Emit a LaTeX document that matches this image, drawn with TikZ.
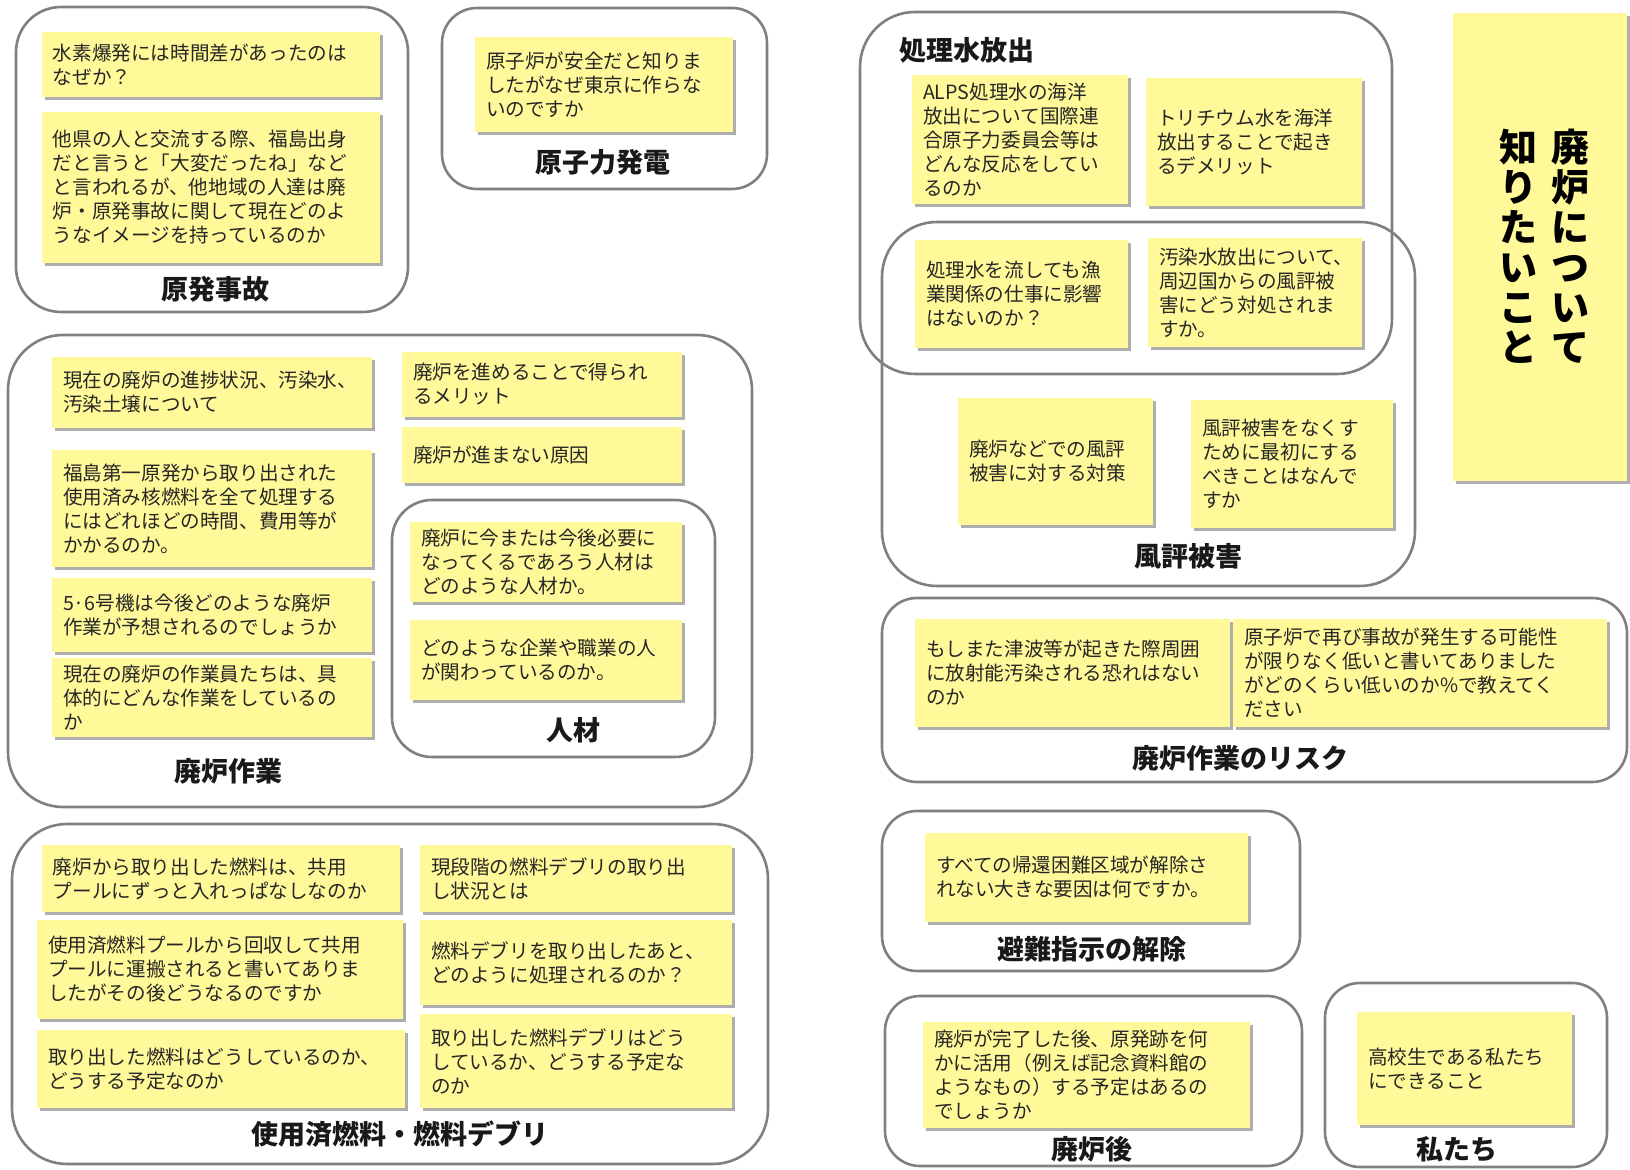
\documentclass[tikz,border=0pt]{standalone}
\usepackage{fontspec}
\setmainfont{Noto Sans CJK JP}
\usetikzlibrary{shadows}
\definecolor{notefill}{RGB}{255,249,153}
\definecolor{grpline}{RGB}{128,128,128}
\newcommand\mknote[6]{%
  \pgfmathsetmacro\notew{(#4-#2)*0.5}%
  \pgfmathsetmacro\noteh{(#5-#3)*0.5}%
  \pgfmathsetmacro\notetw{(#4-#2-22)*0.5}%
  \node[note, minimum width=\notew pt, minimum height=\noteh pt, text width=\notetw pt] (#1) at ({(#2+#4)/2},{(#3+#5)/2}) {#6};%
}
\begin{document}
\begin{tikzpicture}[x=0.5pt,y=-0.5pt,
  note/.style={fill=notefill, draw=none, inner xsep=5.5pt, inner ysep=0pt, align=left,
    font=\fontsize{9.8}{12}\selectfont, text=black!85,
    drop shadow={shadow xshift=1.3pt, shadow yshift=-1.3pt, opacity=0.45, fill=black!70}},
  grp/.style={draw=grpline, line width=1.3pt},
  lab/.style={font=\bfseries\fontsize{13.5}{16}\selectfont, text=black!90, inner sep=0pt}]
\fill[white] (0,0) rectangle (1630,1170);
\useasboundingbox (0,0) rectangle (1630,1170);

% ---- group boxes ----
\draw[grp, rounded corners=22.5pt] (16,7) rectangle (408,312);     % 原発事故
\draw[grp, rounded corners=17.5pt] (442,8) rectangle (767,189);    % 原子力発電
\draw[grp, rounded corners=27.5pt] (8,335) rectangle (752,807);    % 廃炉作業
\draw[grp, rounded corners=20pt] (392,500) rectangle (715,757);    % 人材
\draw[grp, rounded corners=27.5pt] (12,824) rectangle (768,1164);  % 使用済燃料
\draw[grp, rounded corners=27.5pt] (860,12) rectangle (1392,374);  % 処理水放出
\draw[grp, rounded corners=27.5pt] (882,222) rectangle (1415,586); % 風評被害
\draw[grp, rounded corners=17.5pt] (882,598) rectangle (1627,782); % リスク
\draw[grp, rounded corners=17.5pt] (882,811) rectangle (1300,971); % 避難指示
\draw[grp, rounded corners=17.5pt] (885,996) rectangle (1302,1166);% 廃炉後
\draw[grp, rounded corners=17.5pt] (1325,983) rectangle (1607,1167);% 私たち

% ---- 原発事故 ----
\mknote{a1}{42}{32}{380}{97}{水素爆発には時間差があったのは\\なぜか？}
\mknote{a2}{42}{112}{380}{263}{他県の人と交流する際、福島出身\\だと言うと「大変だったね」など\\と言われるが、他地域の人達は廃\\炉・原発事故に関して現在どのよ\\うなイメージを持っているのか}
\node[lab] (la) at (215,289) {原発事故};

% ---- 原子力発電 ----
\mknote{b1}{475}{37}{733}{132}{原子炉が安全だと知りま\\したがなぜ東京に作らな\\いのですか}
\node[lab] (lb) at (603,162) {原子力発電};

% ---- 廃炉作業 ----
\mknote{c1}{52}{357}{372}{428}{現在の廃炉の進捗状況、汚染水、\\汚染土壌について}
\mknote{c2}{52}{450}{372}{567}{福島第一原発から取り出された\\使用済み核燃料を全て処理する\\にはどれほどの時間、費用等が\\かかるのか。}
\mknote{c3}{52}{578}{372}{652}{5·6号機は今後どのような廃炉\\作業が予想されるのでしょうか}
\mknote{c4}{52}{658}{372}{737}{現在の廃炉の作業員たちは、具\\体的にどんな作業をしているの\\か}
\mknote{c5}{402}{352}{682}{417}{廃炉を進めることで得られ\\るメリット}
\mknote{c6}{402}{427}{682}{483}{廃炉が進まない原因}
\mknote{c7}{410}{522}{682}{602}{廃炉に今または今後必要に\\なってくるであろう人材は\\どのような人材か。}
\mknote{c8}{410}{620}{682}{700}{どのような企業や職業の人\\が関わっているのか。}
\node[lab] (lj) at (573,730) {人材};
\node[lab] (lc) at (228,771) {廃炉作業};

% ---- 使用済燃料・燃料デブリ ----
\mknote{d1}{42}{845}{400}{912}{廃炉から取り出した燃料は、共用\\プールにずっと入れっぱなしなのか}
\mknote{d2}{37}{920}{403}{1019}{使用済燃料プールから回収して共用\\プールに運搬されると書いてありま\\したがその後どうなるのですか}
\mknote{d3}{37}{1030}{405}{1108}{取り出した燃料はどうしているのか、\\どうする予定なのか}
\mknote{d4}{420}{845}{732}{912}{現段階の燃料デブリの取り出\\し状況とは}
\mknote{d5}{420}{920}{732}{1005}{燃料デブリを取り出したあと、\\どのように処理されるのか？}
\mknote{d6}{420}{1014}{732}{1108}{取り出した燃料デブリはどう\\しているか、どうする予定な\\のか}
\node[lab] (ld) at (400,1134) {使用済燃料・燃料デブリ};

% ---- 処理水放出 ----
\node[lab, anchor=west] (le) at (899,50) {処理水放出};
\mknote{e1}{912}{75}{1128}{204}{ALPS処理水の海洋\\放出について国際連\\合原子力委員会等は\\どんな反応をしてい\\るのか}
\mknote{e2}{1146}{78}{1362}{206}{トリチウム水を海洋\\放出することで起き\\るデメリット}
\mknote{e3}{915}{240}{1128}{348}{処理水を流しても漁\\業関係の仕事に影響\\はないのか？}
\mknote{e4}{1148}{238}{1362}{347}{汚染水放出について、\\周辺国からの風評被\\害にどう対処されま\\すか。}

% ---- 風評被害 ----
\mknote{f1}{958}{398}{1153}{525}{廃炉などでの風評\\被害に対する対策}
\mknote{f2}{1191}{400}{1393}{528}{風評被害をなくす\\ために最初にする\\べきことはなんで\\すか}
\node[lab] (lf) at (1188,556) {風評被害};

% ---- 廃炉作業のリスク ----
\mknote{g1}{915}{619}{1230}{727}{もしまた津波等が起きた際周囲\\に放射能汚染される恐れはない\\のか}
\mknote{g2}{1233}{619}{1607}{727}{原子炉で再び事故が発生する可能性\\が限りなく低いと書いてありました\\がどのくらい低いのか\%で教えてく\\ださい}
\node[lab] (lg) at (1240,758) {廃炉作業のリスク};

% ---- 避難指示の解除 ----
\mknote{h1}{925}{833}{1248}{922}{すべての帰還困難区域が解除さ\\れない大きな要因は何ですか。}
\node[lab] (lh) at (1092,949) {避難指示の解除};

% ---- 廃炉後 ----
\mknote{i1}{923}{1022}{1250}{1128}{廃炉が完了した後、原発跡を何\\かに活用（例えば記念資料館の\\ようなもの）する予定はあるの\\でしょうか}
\node[lab] (li) at (1092,1149) {廃炉後};

% ---- 私たち ----
\mknote{j1}{1357}{1012}{1572}{1125}{高校生である私たち\\にできること}
\node[lab] (lk) at (1457,1149) {私たち};

% ---- title note ----
\mknote{tn}{1453}{13}{1627}{481}{}
\node[font=\bfseries\fontsize{19}{20}\selectfont, align=center, inner sep=0pt] (t1) at (1570,246) {廃\\炉\\に\\つ\\い\\て};
\node[font=\bfseries\fontsize{19}{20}\selectfont, align=center, inner sep=0pt] (t2) at (1518,246) {知\\り\\た\\い\\こ\\と};
\end{tikzpicture}
\end{document}
